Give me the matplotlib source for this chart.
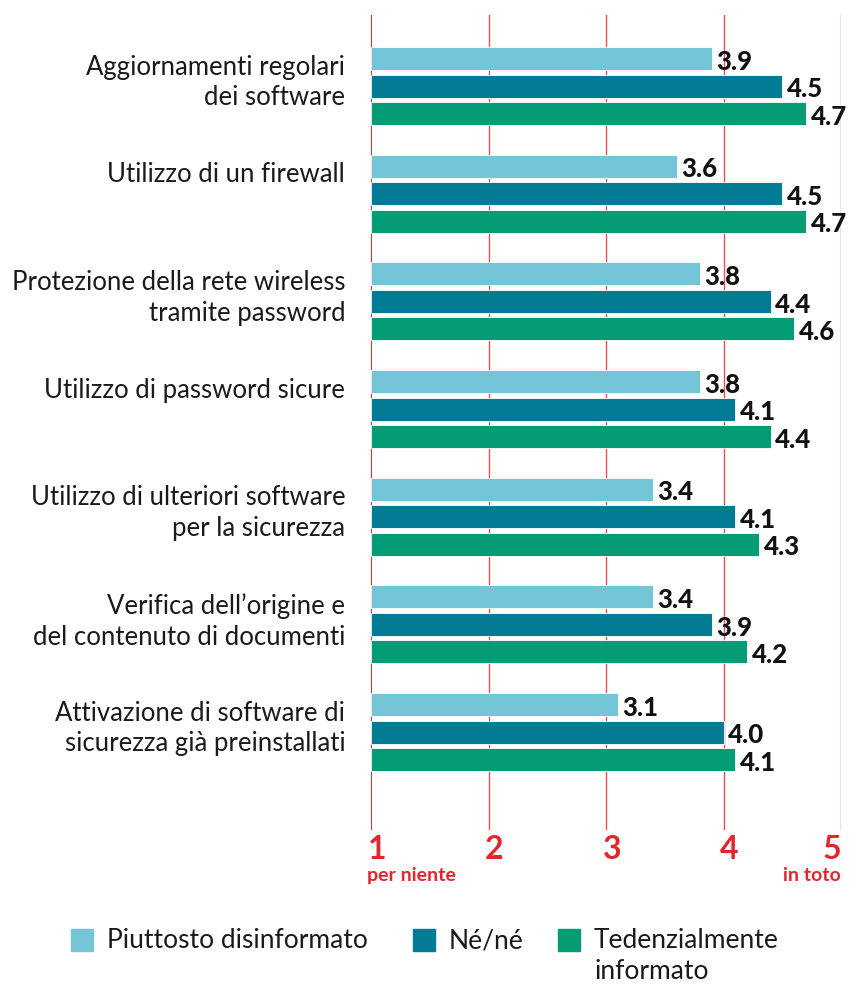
import numpy as np
import matplotlib.pyplot as plt
from matplotlib.patches import Rectangle
from matplotlib.transforms import blended_transform_factory

plt.rcParams['font.family'] = ['Lato', 'DejaVu Sans']

# Data
categories = [
    "Aggiornamenti regolari\ndei software",
    "Utilizzo di un firewall",
    "Protezione della rete wireless\ntramite password",
    "Utilizzo di password sicure",
    "Utilizzo di ulteriori software\nper la sicurezza",
    "Verifica dell\u2019origine e\ndel contenuto di documenti",
    "Attivazione di software di\nsicurezza gi\u00e0 preinstallati",
]
series_names = ["Piuttosto disinformato", "N\u00e9/n\u00e9", "Tedenzialmente\ninformato"]
disinformato = [3.9, 3.6, 3.8, 3.8, 3.4, 3.4, 3.1]
nene = [4.5, 4.5, 4.4, 4.1, 4.1, 3.9, 4.0]
informato = [4.7, 4.7, 4.6, 4.4, 4.3, 4.2, 4.1]
tick_values = [1, 2, 3, 4, 5]
colors = ["#74C5D8", "#027B94", "#039C74"]
red = "#E1262D"

W, H = 863, 986
fig = plt.figure(figsize=(W / 100, H / 100), dpi=100)
ax = fig.add_axes([371 / W, 1 - 830 / H, 470 / W, 815 / H])

y = np.arange(len(categories))
bar_h = 0.214
offset = 0.255
for k, vals in enumerate([disinformato, nene, informato]):
    pos = y + (k - 1) * offset
    ax.barh(pos, np.array(vals) - 1, left=1, height=bar_h, color=colors[k],
            edgecolor="white", linewidth=0.6, zorder=3)
    for p, v in zip(pos, vals):
        ax.text(v + 0.04, p + 0.03, f"{v:.1f}", ha="left", va="center",
                fontsize=18.5, fontweight="black", color="#111111", zorder=4)

# red grid lines
for t in tick_values:
    ax.axvline(t, color=red, lw=1.4 if t == 1 else 1.0,
               alpha=1.0 if t == 1 else 0.8, zorder=1)

ax.set_xlim(1, 5)
ax.set_ylim(6.91, -0.66)
ax.axis("off")

# x tick labels
trans = blended_transform_factory(ax.transData, ax.transAxes)
for t in tick_values:
    if t == 5:
        ax.text(t, -0.006, str(t), ha="right", va="top", fontsize=23,
                fontweight="bold", color=red, transform=trans)
    else:
        ax.text(t - 0.03, -0.006, str(t), ha="left", va="top", fontsize=23,
                fontweight="bold", color=red, transform=trans)
ax.text(0.97, -0.046, "per niente", ha="left", va="top", fontsize=14,
        fontweight="bold", color=red, transform=trans)
ax.text(5, -0.046, "in toto", ha="right", va="top", fontsize=14,
        fontweight="bold", color=red, transform=trans)

# category labels
for i, c in enumerate(categories):
    ax.text(-0.055, i - 0.29, c, ha="right", va="top", fontsize=18.5,
            color="#1a1a1a", linespacing=1.28,
            transform=blended_transform_factory(ax.transAxes, ax.transData))

# legend
leg_x = [71, 413, 558]
for k, name in enumerate(series_names):
    x0 = leg_x[k]
    fig.patches.append(Rectangle((x0 / W, 1 - 951 / H), 22 / W, 22 / H,
                                 color=colors[k], transform=fig.transFigure))
    fig.text((x0 + 36) / W, 1 - 928 / H, name, ha="left", va="top",
             fontsize=19, color="#1a1a1a", linespacing=1.3)

fig.savefig("out.png", dpi=100, facecolor="white")
